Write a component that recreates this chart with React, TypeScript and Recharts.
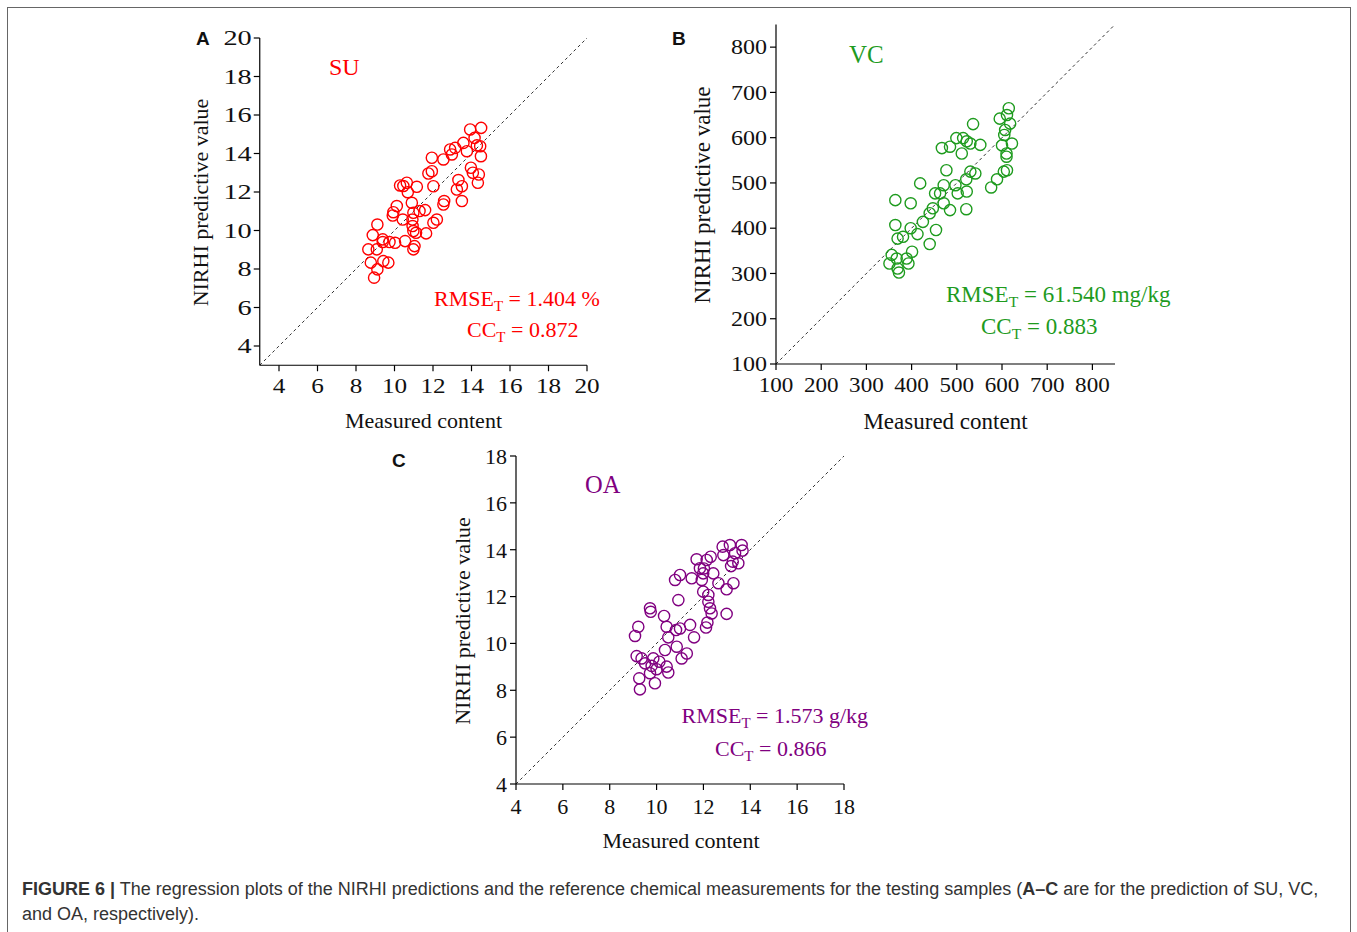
import React from 'react';
import { ScatterChart, Scatter, XAxis, YAxis, ReferenceLine } from 'recharts';

const W = 1357;
const H = 932;

// Panel A – SU
const suMeasured = [8.64, 8.77, 8.87, 8.94, 9.11, 9.11, 9.08, 9.39, 9.39, 9.42, 9.68, 9.74, 10.03, 9.91, 9.94, 10.12, 10.29, 10.43, 10.55, 10.64, 10.69, 10.9, 10.93, 10.98, 10.98, 10.98, 11.04, 11.12, 11.16, 11.3, 11.59, 11.64, 11.76, 11.94, 11.94, 12.02, 12.02, 12.2, 12.54, 12.58, 12.54, 12.89, 12.98, 13.15, 13.24, 13.32, 13.5, 13.5, 13.58, 13.76, 13.93, 13.97, 14.07, 14.16, 14.28, 14.33, 14.38, 14.45, 14.49, 14.5, 10.46, 10.94];
const suPredicted = [9.02, 8.33, 9.76, 7.55, 10.31, 7.98, 9.02, 9.54, 9.4, 8.41, 8.33, 9.4, 9.36, 10.78, 10.95, 11.27, 12.34, 10.57, 9.45, 12.48, 11.99, 11.44, 10.57, 10.92, 9.97, 9.02, 9.19, 9.88, 12.27, 11.01, 11.06, 9.85, 12.96, 13.78, 13.08, 12.3, 10.4, 10.57, 11.35, 11.53, 13.69, 14.21, 13.95, 14.29, 12.13, 12.62, 12.3, 11.53, 14.55, 14.12, 15.25, 13.26, 13.0, 14.81, 14.42, 12.48, 12.91, 14.38, 13.86, 15.33, 12.31, 10.23];

// Panel B – VC
const vcMeasured = [615, 595, 611, 618, 607, 605, 622, 600, 610, 610, 611, 604, 589, 576, 536, 552, 522, 514, 499, 511, 485, 467, 530, 477, 530, 541, 521, 419, 471, 497, 452, 463, 502, 522, 364, 398, 471, 447, 440, 485, 521, 425, 364, 398, 454, 413, 369, 381, 440, 401, 356, 367, 393, 351, 369, 372, 389];
const vcPredicted = [665, 642, 650, 631, 617, 606, 587, 583, 565, 558, 528, 525, 508, 490, 630, 584, 592, 599, 599, 565, 580, 577, 587, 528, 525, 521, 508, 499, 495, 495, 477, 477, 477, 481, 462, 455, 455, 444, 433, 440, 442, 414, 407, 400, 396, 387, 377, 381, 365, 348, 341, 333, 322, 322, 311, 302, 333];

// Panel C – OA
const oaMeasured = [12.82, 13.13, 13.63, 13.67, 13.35, 12.85, 12.31, 12.14, 11.71, 13.25, 13.49, 11.85, 11.99, 12.42, 12.64, 13.28, 12.99, 11.0, 10.79, 11.5, 11.93, 11.99, 12.21, 10.93, 12.21, 12.28, 12.35, 12.99, 9.72, 9.75, 10.32, 12.17, 12.11, 10.43, 11.43, 11.0, 10.83, 9.22, 9.08, 10.5, 11.6, 10.86, 10.36, 11.29, 11.07, 9.15, 9.36, 9.86, 10.12, 9.79, 9.51, 10.43, 10.0, 10.5, 9.72, 9.26, 9.93, 9.29, 13.18, 12.02];
const oaPredicted = [14.13, 14.2, 14.2, 13.96, 13.85, 13.77, 13.7, 13.56, 13.59, 13.49, 13.42, 13.21, 12.99, 12.99, 12.57, 12.57, 12.31, 12.92, 12.71, 12.78, 12.71, 12.21, 12.07, 11.85, 11.78, 11.5, 11.28, 11.26, 11.5, 11.35, 11.17, 10.89, 10.68, 10.71, 10.79, 10.64, 10.57, 10.71, 10.32, 10.26, 10.26, 9.86, 9.72, 9.57, 9.36, 9.46, 9.36, 9.36, 9.22, 9.04, 9.15, 9.01, 8.9, 8.76, 8.73, 8.51, 8.3, 8.04, 13.3, 13.2];

const suTicks = [4, 6, 8, 10, 12, 14, 16, 18, 20];
const vcTicks = [100, 200, 300, 400, 500, 600, 700, 800];
const oaTicks = [4, 6, 8, 10, 12, 14, 16, 18];

const toPoints = (xs: number[], ys: number[]) => xs.map((x, i) => ({ x, y: ys[i] }));

const SERIF = '"Liberation Serif", "Times New Roman", serif';
const SANS = '"Liberation Sans", Arial, Helvetica, sans-serif';

type Box = { x0: number; x1: number; y0: number; y1: number };

type PanelProps = {
  data: { x: number; y: number }[];
  color: string;
  domain: [number, number];
  ticks: number[];
  box: Box;
  xTick: { size: number; scale: number; margin: number };
  yTick: { size: number; scale: number; margin: number };
};

const makeXTick = (size: number, scale: number) => (props: any) => {
  const { x, y, payload } = props;
  return (
    <text
      transform={`translate(${x},${y}) scale(${scale},1)`}
      textAnchor="middle"
      dy="0.71em"
      fontFamily={SERIF}
      fontSize={size}
      fill="#111"
    >
      {payload.value}
    </text>
  );
};

const makeYTick = (size: number, scale: number) => (props: any) => {
  const { x, y, payload } = props;
  return (
    <text
      transform={`translate(${x},${y}) scale(${scale},1)`}
      textAnchor="end"
      dy="0.355em"
      fontFamily={SERIF}
      fontSize={size}
      fill="#111"
    >
      {payload.value}
    </text>
  );
};

function Panel({ data, color, domain, ticks, box, xTick, yTick }: PanelProps) {
  const yW = 60;
  const xH = 40;
  const shape = (p: any) => (
    <circle cx={p.cx} cy={p.cy} r={5.6} fill="none" stroke={color} strokeWidth={1.4} />
  );
  return (
    <div style={{ position: 'absolute', left: 0, top: 0 }}>
      <ScatterChart
        width={W}
        height={H}
        margin={{ top: box.y0, left: box.x0 - yW, right: W - box.x1, bottom: H - box.y1 - xH }}
      >
        <XAxis
          type="number"
          dataKey="x"
          domain={domain}
          ticks={ticks}
          interval={0}
          allowDataOverflow
          height={xH}
          tickSize={6}
          tickMargin={xTick.margin}
          axisLine={{ stroke: '#000', strokeWidth: 1.2 }}
          tickLine={{ stroke: '#000', strokeWidth: 1.2 }}
          tick={makeXTick(xTick.size, xTick.scale)}
        />
        <YAxis
          type="number"
          dataKey="y"
          domain={domain}
          ticks={ticks}
          interval={0}
          allowDataOverflow
          width={yW}
          tickSize={6}
          tickMargin={yTick.margin}
          axisLine={{ stroke: '#000', strokeWidth: 1.2 }}
          tickLine={{ stroke: '#000', strokeWidth: 1.2 }}
          tick={makeYTick(yTick.size, yTick.scale)}
        />
        <ReferenceLine
          segment={[
            { x: domain[0], y: domain[0] },
            { x: domain[1], y: domain[1] },
          ]}
          stroke="#333"
          strokeWidth={1}
          strokeDasharray="3 3"
        />
        <Scatter data={data} isAnimationActive={false} shape={shape} />
      </ScatterChart>
    </div>
  );
}

const Stat = ({ x, y, label, value, color, size }: { x: number; y: number; label: string; value: string; color: string; size: number }) => (
  <text x={x} y={y} fontFamily={SERIF} fontSize={size} fill={color}>
    <tspan>{label}</tspan>
    <tspan dy={5} fontSize={size * 0.68}>T</tspan>
    <tspan dy={-5}>{' = ' + value}</tspan>
  </text>
);

export default function App() {
  const red = '#ff0000';
  const green = '#1e9b1e';
  const purple = '#800080';
  return (
    <div style={{ position: 'absolute', left: 0, top: 0, width: W, height: H, overflow: 'hidden', background: '#fff' }}>
      <div
        style={{
          position: 'absolute',
          left: 7,
          top: 7,
          width: 1342,
          height: 1000,
          border: '1.5px solid #666',
        }}
      />
      <Panel
        data={toPoints(suMeasured, suPredicted)}
        color={red}
        domain={[3, 20]}
        ticks={suTicks}
        box={{ x0: 259.75, x1: 587, y0: 38, y1: 365.25 }}
        xTick={{ size: 21, scale: 1.2, margin: 7 }}
        yTick={{ size: 21, scale: 1.35, margin: 2 }}
      />
      <Panel
        data={toPoints(vcMeasured, vcPredicted)}
        color={green}
        domain={[100, 850]}
        ticks={vcTicks}
        box={{ x0: 776, x1: 1115, y0: 24.5, y1: 364 }}
        xTick={{ size: 21, scale: 1.1, margin: 7 }}
        yTick={{ size: 20, scale: 1.2, margin: 3 }}
      />
      <Panel
        data={toPoints(oaMeasured, oaPredicted)}
        color={purple}
        domain={[4, 18]}
        ticks={oaTicks}
        box={{ x0: 516, x1: 844, y0: 456, y1: 784 }}
        xTick={{ size: 22, scale: 1.0, margin: 8 }}
        yTick={{ size: 22, scale: 1.0, margin: 3 }}
      />
      <svg width={W} height={H} style={{ position: 'absolute', left: 0, top: 0, pointerEvents: 'none' }}>
        {/* panel letters */}
        <text x={196} y={45} fontFamily={SANS} fontWeight="bold" fontSize={19} fill="#111">A</text>
        <text x={672} y={44.5} fontFamily={SANS} fontWeight="bold" fontSize={19} fill="#111">B</text>
        <text x={392} y={467} fontFamily={SANS} fontWeight="bold" fontSize={19} fill="#111">C</text>

        {/* axis titles */}
        <text x={423.5} y={428} textAnchor="middle" fontFamily={SERIF} fontSize={22} fill="#111">Measured content</text>
        <text transform="translate(208,202.5) rotate(-90)" textAnchor="middle" fontFamily={SERIF} fontSize={22} fill="#111">NIRHI predictive value</text>
        <text x={945.5} y={429} textAnchor="middle" fontFamily={SERIF} fontSize={23} fill="#111">Measured content</text>
        <text transform="translate(710,195) rotate(-90)" textAnchor="middle" fontFamily={SERIF} fontSize={23} fill="#111">NIRHI predictive value</text>
        <text x={681} y={848} textAnchor="middle" fontFamily={SERIF} fontSize={22} fill="#111">Measured content</text>
        <text transform="translate(470,621) rotate(-90)" textAnchor="middle" fontFamily={SERIF} fontSize={22} fill="#111">NIRHI predictive value</text>

        {/* series names */}
        <text x={329} y={75} fontFamily={SERIF} fontSize={24} fill={red}>SU</text>
        <text x={849} y={63} fontFamily={SERIF} fontSize={25} fill={green}>VC</text>
        <text x={585} y={493} fontFamily={SERIF} fontSize={24.5} fill={purple}>OA</text>

        {/* statistics */}
        <Stat x={434} y={306} label="RMSE" value="1.404 %" color={red} size={22} />
        <Stat x={467} y={337} label="CC" value="0.872" color={red} size={22} />
        <Stat x={946} y={302} label="RMSE" value="61.540 mg/kg" color={green} size={23} />
        <Stat x={981} y={334} label="CC" value="0.883" color={green} size={23} />
        <Stat x={681.5} y={723} label="RMSE" value="1.573 g/kg" color={purple} size={22} />
        <Stat x={715} y={756} label="CC" value="0.866" color={purple} size={22} />

        {/* caption */}
        <text x={22} y={895} fontFamily={SANS} fontSize={18} fill="#333">
          <tspan fontWeight="bold">FIGURE 6 |</tspan>
          <tspan> The regression plots of the NIRHI predictions and the reference chemical measurements for the testing samples (</tspan>
          <tspan fontWeight="bold">A–C</tspan>
          <tspan> are for the prediction of SU, VC,</tspan>
        </text>
        <text x={22} y={920} fontFamily={SANS} fontSize={18} fill="#333">and OA, respectively).</text>
      </svg>
    </div>
  );
}
